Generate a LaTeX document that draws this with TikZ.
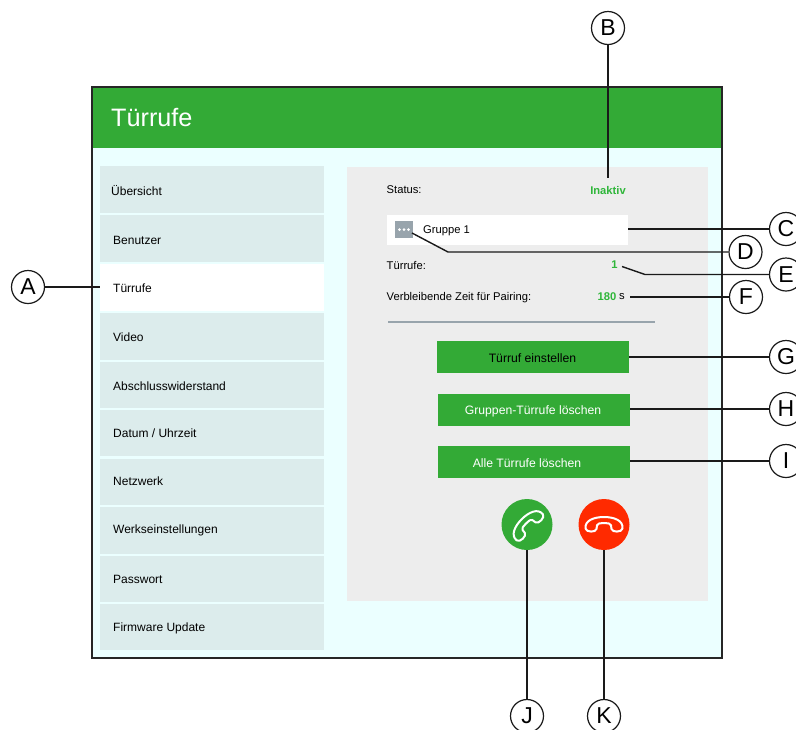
\documentclass[tikz,border=0pt]{standalone}
\usepackage{fontspec}
\setmainfont{Liberation Sans}
\definecolor{hdrgreen}{HTML}{33AA36}
\definecolor{panelbg}{HTML}{EBFFFF}
\definecolor{menubg}{HTML}{DCECEC}
\definecolor{contentbg}{HTML}{EDEDED}
\definecolor{valgreen}{HTML}{2FB63A}
\definecolor{sepgrey}{HTML}{98A4AC}
\definecolor{redbtn}{HTML}{FF2A00}
\definecolor{linecol}{HTML}{1A1A1A}
\tikzset{
  x=1pt,y=-1pt,
  menuitem/.style={fill=menubg,draw=none,minimum width=224pt,anchor=north west,inner sep=0pt},
  menutext/.style={anchor=west,inner sep=0pt,font=\fontsize{12}{14}\selectfont,text=black},
  lbl/.style={anchor=west,inner sep=0pt,font=\fontsize{11.2}{13}\selectfont,text=black},
  val/.style={inner sep=0pt,font=\fontsize{11.2}{13}\selectfont\bfseries,text=valgreen},
  btn/.style={fill=hdrgreen,draw=none,minimum width=192pt,minimum height=32pt,inner sep=0pt},
  btntext/.style={inner sep=0pt,font=\fontsize{12.2}{14}\selectfont},
  callout/.style={circle,draw=linecol,fill=white,line width=1.2pt,minimum size=33pt,inner sep=0pt,font=\fontsize{23}{26}\selectfont},
  leader/.style={draw=linecol,line width=1.4pt},
  handset/.style={draw=white,line width=2pt,line join=round,fill=none},
  frameline/.style={draw=black!85,line width=1.4pt}
}
\newcommand{\handsetpath}{
  (-18.5,4) .. controls (-19.5,-4) and (-10,-7.5) .. (0,-7.5)
  .. controls (10,-7.5) and (19.5,-4) .. (18.5,4)
  .. controls (18,8) and (8,8) .. (7.5,4.5)
  .. controls (7.5,1.5) and (7,-0.5) .. (5,-1)
  .. controls (2,-1.5) and (-2,-1.5) .. (-5,-1)
  .. controls (-7,-0.5) and (-7.5,1.5) .. (-7.5,4.5)
  .. controls (-8,8) and (-18,8) .. (-18.5,4) -- cycle
}
\begin{document}
\begin{tikzpicture}
\useasboundingbox (0,0) rectangle (796,729);
% panel
\fill[panelbg] (92,148) rectangle (722,658);
\fill[hdrgreen] (92,87) rectangle (722,148);
\draw[frameline] (92,658) -- (92,87) -- (722,87) -- (722,658) -- cycle;
\node[anchor=west,inner sep=0pt,text=white,font=\fontsize{25.2}{30}\selectfont] (title) at (111,117) {Türrufe};
% menu
\foreach \n/\t/\h/\txtx/\ty/\lab in {
  m1/166/46.5/111/190.5/{Übersicht},
  m2/215/47/113/240.5/{Benutzer},
  m4/313/46.5/113/337.3/{Video},
  m5/362/46/113/386/{Abschlusswiderstand},
  m6/410/46/113/433.5/{Datum / Uhrzeit},
  m7/459/46/113/481.5/{Netzwerk},
  m8/507/46.5/113/530/{Werkseinstellungen},
  m9/556/46/113/579.5/{Passwort},
  m10/604/46/113/628/{Firmware Update}}{
  \node[menuitem,minimum height=\h pt] (\n) at (100,\t) {};
  \node[menutext] (\n t) at (\txtx,\ty) {\lab};
}
\node[menuitem,fill=white,minimum height=47pt] (m3) at (100,264) {};
\node[menutext] (m3t) at (113,288) {Türrufe};
% content
\fill[contentbg] (347,167) rectangle (708,601);
\node[lbl] (status) at (386.5,189.5) {Status:};
\node[val,anchor=center] (inaktiv) at (608,190) {Inaktiv};
\fill[white] (387,215) rectangle (628,245);
\node[fill=sepgrey,minimum width=18pt,minimum height=17pt,inner sep=0pt] (icon) at (404,229.5) {};
\foreach \dx in {-4.5,0,4.5}\fill[white] (404+\dx,229.5) circle (1.5);
\node[lbl] (gruppe) at (423,231) {Gruppe 1};
\node[lbl] (tuerrufe) at (386.5,265.5) {Türrufe:};
\node[val,anchor=center] (one) at (614.5,264.5) {1};
\node[lbl] (zeit) at (386.5,298) {Verbleibende Zeit für Pairing:};
\node[val,anchor=east] (num) at (616.5,296.5) {180};
\node[lbl,anchor=west] (unit) at (619,296.5) {s};
\draw[sepgrey,line width=2.4pt] (388,322) -- (654.5,322);
% buttons
\node[btn] (g) at (533,357) {};
\node[btn] (h) at (534,410) {};
\node[btn] (i) at (534,462) {};
\node[btntext,text=black] (gt) at (532.5,358) {Türruf einstellen};
\node[btntext,text=white] (ht) at (533,411) {Gruppen-Türrufe löschen};
\node[btntext,text=white] (it) at (527,463.5) {Alle Türrufe löschen};
\node[circle,fill=hdrgreen,minimum size=51pt,inner sep=0pt] (call) at (527,524.5) {};
\node[circle,fill=redbtn,minimum size=51pt,inner sep=0pt] (hang) at (604,524.5) {};
\draw[handset,shift={(527,524.5)},rotate=45] \handsetpath;
\draw[handset,shift={(604,524.5)}] \handsetpath;
% callouts
\node[callout] (A) at (28,287) {A};
\node[callout] (B) at (608,28) {B};
\node[callout] (C) at (786,229) {C};
\node[callout] (D) at (745.5,252) {D};
\node[callout] (E) at (786,274.5) {E};
\node[callout] (F) at (746,297) {F};
\node[callout] (G) at (786,357) {G};
\node[callout] (H) at (786,409) {H};
\node[callout] (I) at (786,461) {I};
\node[callout] (J) at (527,716) {J};
\node[callout] (K) at (604,716) {K};
% free ends
\coordinate (aend) at (100,287);
\coordinate (bend) at (608,178);
\coordinate (cend) at (628,229);
\coordinate (dend) at (412,233);
\coordinate (dknee) at (448,252);
\coordinate (eend) at (622,266.5);
\coordinate (eknee) at (645,274.5);
\coordinate (fend) at (630,297);
\draw[leader] (A) -- (aend);
\draw[leader] (B) -- (bend);
\draw[leader] (C) -- (cend);
\draw[leader] (D) -- (dknee) -- (dend);
\draw[leader] (E) -- (eknee) -- (eend);
\draw[leader] (F) -- (fend);
\draw[leader] (G) -- (G -| g.east);
\draw[leader] (H) -- (H -| h.east);
\draw[leader] (I) -- (I -| i.east);
\draw[leader] (J) -- (call);
\draw[leader] (K) -- (hang);
\end{tikzpicture}
\end{document}
